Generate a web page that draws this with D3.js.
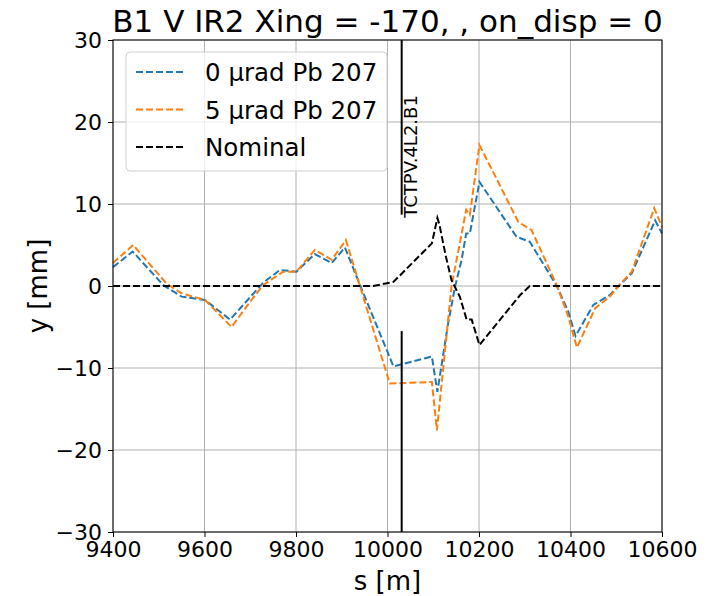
<!DOCTYPE html>
<html>
<head>
<meta charset="utf-8">
<title>B1 V IR2</title>
<style>
  body { margin: 0; background: #fff; }
  text { font-family: "DejaVu Sans", sans-serif; }
</style>
</head>
<body>
<svg id="chart" width="712" height="596"></svg>
<script src="https://d3js.org/d3.v7.min.js"></script>
<script>
// data
const s0 = [9400, 9443, 9510, 9550, 9601, 9656, 9728, 9765, 9801, 9841, 9878, 9907, 9940, 10013, 10097, 10109, 10133, 10148, 10162, 10172, 10180, 10201, 10282, 10311, 10370, 10395, 10411, 10450, 10486, 10505, 10534, 10585, 10600]
const y0 = [2.3, 4.2, 0.1, -1.3, -1.7, -4.1, 0.4, 1.95, 1.75, 3.9, 2.8, 4.7, 0.1, -9.8, -8.6, -12.9, -4.4, 0.0, 3.2, 6.4, 6.4, 12.7, 6.0, 5.4, 0.0, -3.1, -6.1, -2.3, -1.1, 0.0, 1.55, 8.0, 6.4]

const s5 = [9400, 9444, 9517, 9550, 9601, 9659, 9700, 9728, 9772, 9801, 9841, 9878, 9909, 10005, 10097, 10108, 10140, 10158, 10172, 10180, 10201, 10286, 10315, 10370, 10395, 10414, 10454, 10486, 10505, 10534, 10583, 10600]
const y5 = [2.8, 5.0, 0.3, -0.9, -1.7, -5.0, -1.9, 0.1, 1.75, 1.75, 4.4, 3.2, 5.6, -11.9, -11.7, -17.6, 0.0, 5.2, 9.3, 8.7, 17.2, 7.8, 6.8, 0.1, -3.7, -7.5, -2.7, -1.3, 0.0, 1.75, 9.5, 7.2]

const sNom = [9400, 9969, 10013, 10097, 10109, 10113, 10128, 10140, 10158, 10173, 10184, 10201, 10290, 10311, 10600]
const yNom = [0, 0, 0.5, 5.2, 8.3, 7.6, 3.5, 0.7, -1.3, -4.1, -4.1, -7.2, -1.1, 0, 0]

const seriesNames = ["0 µrad Pb 207", "5 µrad Pb 207", "Nominal"]
const seriesColors = ["#1f77b4", "#ff7f0e", "#000000"]

// collimator
const collName = "TCTPV.4L2.B1"
const collS = 10031
const collJaws = [8.7, -5.5]

const xTicks = [9400, 9600, 9800, 10000, 10200, 10400, 10600]
const yTicks = [-30, -20, -10, 0, 10, 20, 30]

const margin = {left: 113, top: 40, right: 50, bottom: 64}
const width = 712, height = 596
const pw = width - margin.left - margin.right
const ph = height - margin.top - margin.bottom

const svg = d3.select("#chart")
const g = svg.append("g").attr("transform", `translate(${margin.left},${margin.top})`)

const x = d3.scaleLinear().domain([9400, 10600]).range([0, pw])
const y = d3.scaleLinear().domain([-30, 30]).range([ph, 0])

// grid
g.append("g").selectAll("line").data(xTicks).join("line")
  .attr("x1", d => x(d)).attr("x2", d => x(d)).attr("y1", 0).attr("y2", ph)
  .attr("stroke", "#b0b0b0").attr("stroke-width", 1)
g.append("g").selectAll("line").data(yTicks).join("line")
  .attr("y1", d => y(d)).attr("y2", d => y(d)).attr("x1", 0).attr("x2", pw)
  .attr("stroke", "#b0b0b0").attr("stroke-width", 1)

const line = d3.line().x(d => x(d[0])).y(d => y(d[1]))

const series = [
  d3.zip(s0, y0),
  d3.zip(s5, y5),
  d3.zip(sNom, yNom)
]

series.forEach((pts, i) => {
  g.append("path")
    .datum(pts)
    .attr("d", line)
    .attr("fill", "none")
    .attr("stroke", seriesColors[i])
    .attr("stroke-width", 2)
    .attr("stroke-dasharray", "7,3")
})

// collimator jaws
g.append("line")
  .attr("x1", x(collS)).attr("x2", x(collS))
  .attr("y1", y(30)).attr("y2", y(collJaws[0]))
  .attr("stroke", "#000").attr("stroke-width", 2)
g.append("line")
  .attr("x1", x(collS)).attr("x2", x(collS))
  .attr("y1", y(collJaws[1])).attr("y2", y(-30))
  .attr("stroke", "#000").attr("stroke-width", 2)
g.append("text")
  .attr("transform", `translate(${x(collS) + 15},${y(collJaws[0]) + 3}) rotate(-90)`)
  .attr("font-size", 18)
  .text(collName)

// axes
const xAxis = d3.axisBottom(x).tickValues(xTicks).tickSize(5).tickPadding(4).tickFormat(d3.format("d"))
const yAxis = d3.axisLeft(y).tickValues(yTicks).tickSize(5).tickPadding(6)
  .tickFormat(d => d < 0 ? "\u2212" + Math.abs(d) : d)

const gx = g.append("g").attr("transform", `translate(0,${ph})`).call(xAxis)
const gy = g.append("g").call(yAxis)
;[gx, gy].forEach(a => {
  a.select(".domain").remove()
  a.selectAll("text").attr("font-size", 22).attr("font-family", "DejaVu Sans").attr("fill", "#000")
  a.selectAll("line").attr("stroke", "#000")
})

// frame
g.append("rect").attr("width", pw).attr("height", ph)
  .attr("fill", "none").attr("stroke", "#000").attr("stroke-width", 1)

// labels
svg.append("text")
  .attr("x", margin.left + pw / 2).attr("y", 590)
  .attr("text-anchor", "middle").attr("font-size", 26)
  .text("s [m]")
svg.append("text")
  .attr("transform", `translate(47,${margin.top + ph / 2}) rotate(-90)`)
  .attr("text-anchor", "middle").attr("font-size", 26)
  .text("y [mm]")
svg.append("text")
  .attr("x", margin.left + pw / 2).attr("y", 32)
  .attr("text-anchor", "middle").attr("font-size", 31)
  .text("B1 V IR2 Xing = -170, , on_disp = 0")

// legend
const lg = svg.append("g").attr("transform", "translate(126,52)")
lg.append("rect").attr("width", 261).attr("height", 119).attr("rx", 4)
  .attr("fill", "#fff").attr("fill-opacity", 0.8).attr("stroke", "#d0d0d0")
seriesNames.forEach((name, i) => {
  const cy = 20 + i * 37.5
  lg.append("line").attr("x1", 10).attr("x2", 58).attr("y1", cy).attr("y2", cy)
    .attr("stroke", seriesColors[i]).attr("stroke-width", 2).attr("stroke-dasharray", "7,3")
  lg.append("text").attr("x", 79).attr("y", cy + 9).attr("font-size", 24.5).text(name)
})
</script>
</body>
</html>
